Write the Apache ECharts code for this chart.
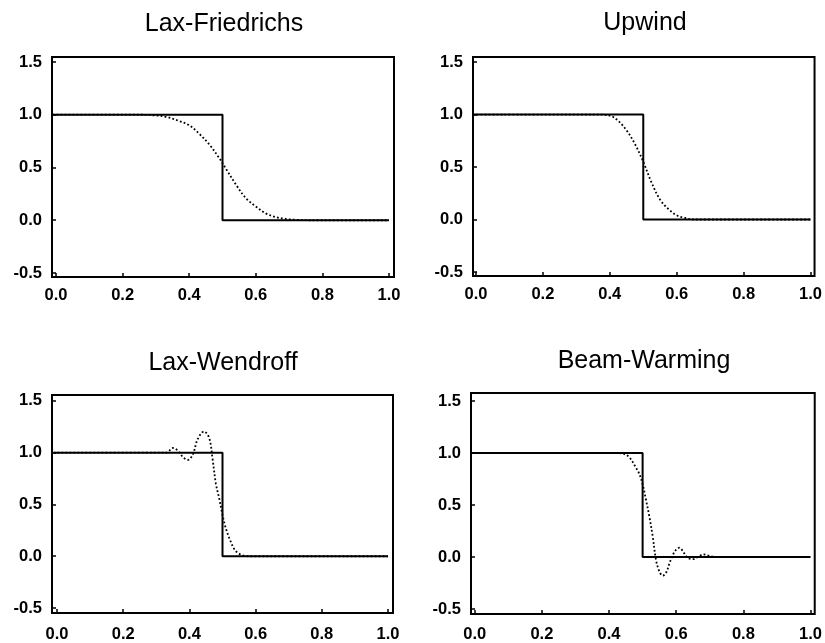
<!DOCTYPE html>
<html><head><meta charset="utf-8">
<script src="https://cdn.jsdelivr.net/npm/echarts@6/dist/echarts.min.js"></script>
<style>html,body{margin:0;padding:0;background:#fff}#c{width:825px;height:643px}</style>
</head><body><div id="c"></div>
<script>
// Panel titles
const titles = ['Lax-Friedrichs', 'Upwind', 'Lax-Wendroff', 'Beam-Warming'];
// Tick labels
const xTicks = [0, 0.2, 0.4, 0.6, 0.8, 1.0];
const yTicks = [-0.5, 0, 0.5, 1.0, 1.5];
// Exact solution (step)
const stepX = [-0.01, 0.5, 0.5, 1.0];
const stepY = [1, 1, 0, 0];
// Numerical solutions
const lfX = [-0.01, 0.25, 0.29, 0.33, 0.37, 0.4, 0.43, 0.46, 0.49, 0.51, 0.54, 0.57, 0.6, 0.63, 0.66, 0.69, 0.72, 0.76, 1.0];
const lfY = [1, 1, 0.995, 0.98, 0.94, 0.90, 0.82, 0.72, 0.59, 0.49, 0.34, 0.21, 0.13, 0.065, 0.03, 0.012, 0.004, 0, 0];
const upX = [-0.01, 0.35, 0.4, 0.425, 0.45, 0.475, 0.5, 0.525, 0.55, 0.575, 0.6, 0.625, 0.65, 1.0];
const upY = [1, 1, 0.99, 0.94, 0.85, 0.72, 0.55, 0.35, 0.19, 0.10, 0.04, 0.015, 0, 0];
const lwX = [-0.01, 0.3, 0.33, 0.35, 0.365, 0.38, 0.395, 0.41, 0.425, 0.444, 0.46, 0.47, 0.48, 0.49, 0.5, 0.51, 0.525, 0.54, 0.56, 0.58, 1.0];
const lwY = [1, 1, 1.0, 1.045, 1.02, 0.96, 0.93, 0.98, 1.13, 1.205, 1.14, 0.94, 0.70, 0.56, 0.40, 0.27, 0.14, 0.05, 0.01, 0, 0];
const bwX = [-0.01, 0.42, 0.44, 0.46, 0.48, 0.49, 0.5, 0.51, 0.52, 0.53, 0.54, 0.55, 0.56, 0.57, 0.58, 0.59, 0.6, 0.61, 0.62, 0.635, 0.65, 0.665, 0.68, 0.7, 0.72, 1.0];
const bwY = [1, 1, 0.995, 0.96, 0.86, 0.80, 0.70, 0.55, 0.39, 0.20, -0.03, -0.14, -0.18, -0.15, -0.06, 0.02, 0.07, 0.09, 0.055, -0.01, -0.02, 0.0, 0.025, 0.01, 0, 0];

const numX = [lfX, upX, lwX, bwX];
const numY = [lfY, upY, lwY, bwY];

const zip = (a, b) => a.map((v, i) => [v, b[i]]);

const grids = [
  {left: 52, top: 57, width: 342, height: 220},
  {left: 473, top: 57, width: 342, height: 219},
  {left: 52, top: 395, width: 341, height: 221},
  {left: 471, top: 393, width: 344, height: 221}
];
const xRanges = [[-0.012, 1.015], [-0.009, 1.012], [-0.015, 1.015], [-0.011, 1.0125]];
const yRanges = [[-0.538, 1.547], [-0.538, 1.548], [-0.548, 1.557], [-0.548, 1.577]];
const xLabelMargin = [10, 10, 13, 12];
const titlePos = [[224, 24], [645, 23], [223, 363], [644, 361]];

const lab = {color: '#000', fontFamily: 'Liberation Sans', fontWeight: 'bold', fontSize: 16.5};
const xAxis = [], yAxis = [], series = [], graphic = [];
for (let i = 0; i < 4; i++) {
  xAxis.push({
    type: 'value', gridIndex: i, min: xRanges[i][0], max: xRanges[i][1],
    splitLine: {show: false}, axisLine: {show: false, onZero: false},
    axisTick: {show: true, inside: true, length: 4, lineStyle: {color: '#000', width: 1.5}, customValues: xTicks},
    axisLabel: Object.assign({margin: xLabelMargin[i], customValues: xTicks, formatter: v => v.toFixed(1)}, lab)
  });
  yAxis.push({
    type: 'value', gridIndex: i, min: yRanges[i][0], max: yRanges[i][1],
    splitLine: {show: false}, axisLine: {show: false, onZero: false},
    axisTick: {show: true, inside: true, length: 4, lineStyle: {color: '#000', width: 1.5}, customValues: yTicks},
    axisLabel: Object.assign({margin: 10, customValues: yTicks, formatter: v => v.toFixed(1)}, lab)
  });
  series.push({
    type: 'line', xAxisIndex: i, yAxisIndex: i, data: zip(stepX, stepY),
    showSymbol: false, lineStyle: {color: '#000', width: 2}, animation: false, z: 3
  });
  series.push({
    type: 'line', xAxisIndex: i, yAxisIndex: i, data: zip(numX[i], numY[i]),
    showSymbol: false, smooth: 0.35, lineStyle: {color: '#000', width: 1.8, type: [1.8, 2.2]}, animation: false, z: 2
  });
  graphic.push({
    type: 'text', x: titlePos[i][0], y: titlePos[i][1],
    style: {text: titles[i], fill: '#000', font: '25px "Liberation Sans"', textAlign: 'center', textVerticalAlign: 'middle'}
  });
}

const chart = echarts.init(document.getElementById('c'), null, {renderer: 'canvas'});
chart.setOption({
  backgroundColor: '#fff',
  animation: false,
  grid: grids.map(g => Object.assign({show: true, borderColor: '#000', borderWidth: 2, backgroundColor: 'transparent', containLabel: false}, g)),
  xAxis, yAxis, series, graphic
});
</script>
</body></html>
